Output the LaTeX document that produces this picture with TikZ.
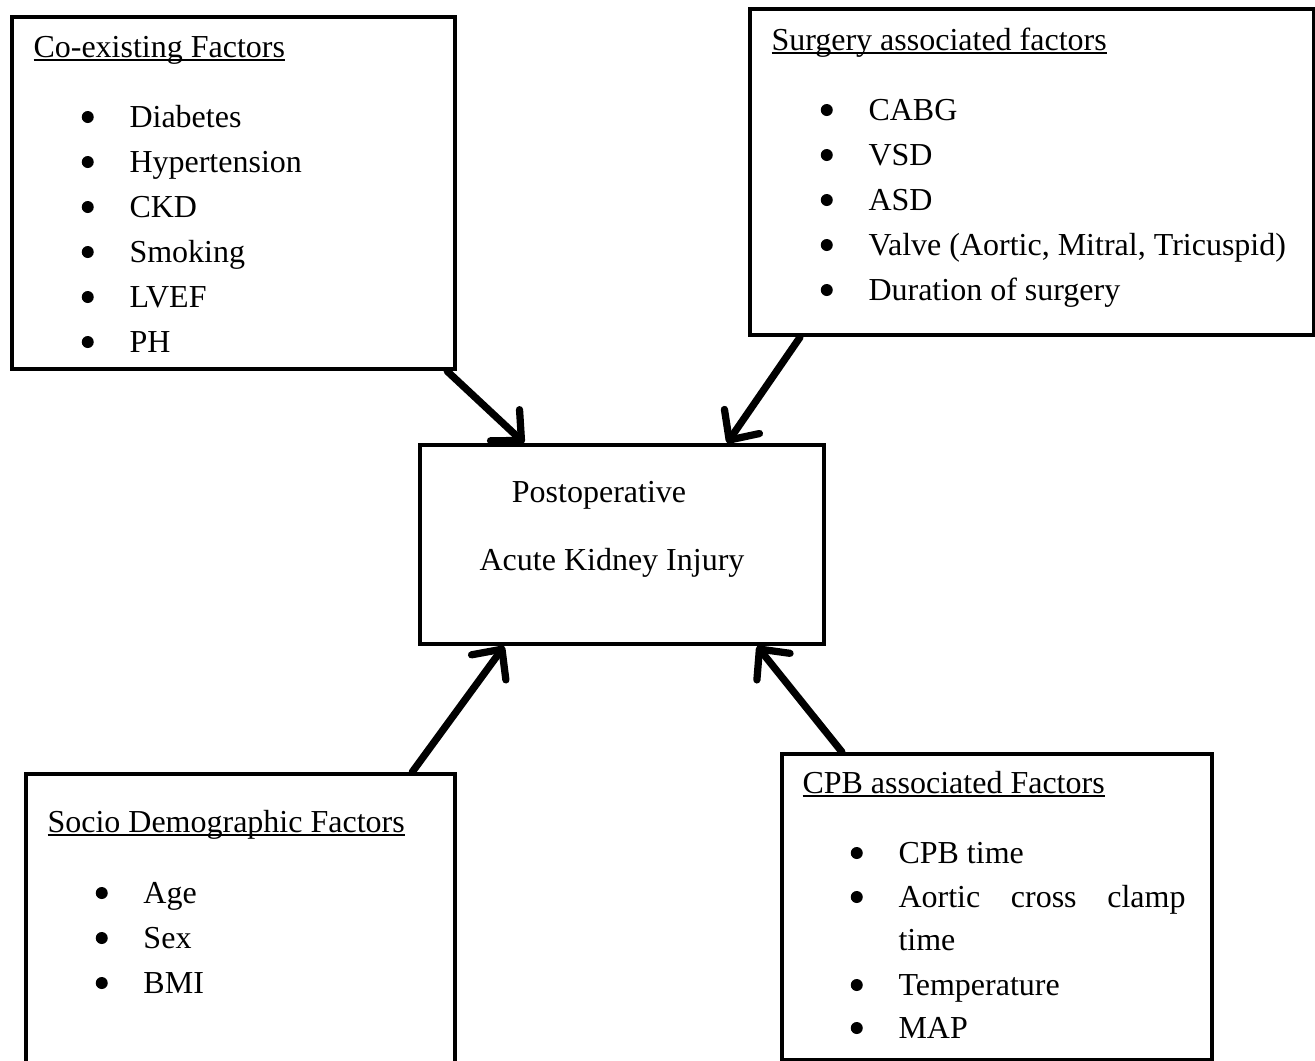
\documentclass[tikz,border=0pt]{standalone}
\usepackage{fontspec}
\setmainfont{Liberation Serif}
\usetikzlibrary{arrows.meta}
\newcommand{\myuline}[1]{\setbox0\hbox{#1}\rlap{\rule[-1.4pt]{\wd0}{0.5pt}}\box0}
\newcommand{\mytext}{\fontsize{12.8}{15}\selectfont}
\newcommand{\mydot}[1]{\fill ([xshift=-16.5pt, yshift=4pt]#1.base west) circle (2.4pt);}
\tikzset{
  factorbox/.style={draw, line width=1.7pt, anchor=north west, inner sep=0pt},
  factortitle/.style={anchor=base west, inner sep=0pt, font=\mytext},
  factoritem/.style={anchor=base west, inner sep=0pt, font=\mytext},
  arr/.style={line width=2.9pt, line cap=round, -{Straight Barb[length=9pt,width=17pt,round]}}
}

\begin{document}
\begin{tikzpicture}[x=0.4pt, y=-0.4pt]
 \useasboundingbox (0,0) rectangle (1315,1061);

 \node[factorbox, minimum width=177.2pt, minimum height=140.8pt] (coex) at (10,15) {};
 \node[factorbox, minimum width=225.6pt, minimum height=130.4pt] (surg) at (748,7) {};
 \node[factorbox, minimum width=161.6pt, minimum height=79.6pt] (aki) at (418,443) {};
 \node[factorbox, minimum width=171.6pt, minimum height=120pt] (socio) at (24,772) {};
 \node[factorbox, minimum width=172pt, minimum height=122.4pt] (cpb) at (780,752) {};

 \node[factortitle] (coexT) at (33,57) {\myuline{Co-existing Factors}};
 \foreach \t [count=\i] in {Diabetes,Hypertension,CKD,Smoking,LVEF,PH}
 { \node[factoritem] (coex\i) at (129,{127+45*(\i-1)}) {\t};
   \mydot{coex\i} }

 \node[factortitle] (surgT) at (771,50) {\myuline{Surgery associated factors}};
 \foreach \t [count=\i] in {CABG,VSD,ASD,{Valve (Aortic, Mitral, Tricuspid)},Duration of surgery}
 { \node[factoritem] (surg\i) at (868,{120+45*(\i-1)}) {\t};
   \mydot{surg\i} }

 \node[factoritem, anchor=base] (akiA) at (599,502) {Postoperative};
 \node[factoritem, anchor=base] (akiB) at (612,570) {Acute Kidney Injury};

 \node[factortitle] (socioT) at (47,832) {\myuline{Socio Demographic Factors}};
 \foreach \t [count=\i] in {Age,Sex,BMI}
 { \node[factoritem] (socio\i) at (143,{903+45*(\i-1)}) {\t};
   \mydot{socio\i} }

 \node[factortitle] (cpbT) at (802,793) {\myuline{CPB associated Factors}};
 \node[factoritem] (cpb1) at (898,863) {CPB time};
 \node[factoritem] (cpb2) at (898,907) {\makebox[114.8pt][s]{Aortic\hfill cross\hfill clamp}};
 \node[factoritem] (cpb2b) at (898,950) {time};
 \node[factoritem] (cpb3) at (898,995) {Temperature};
 \node[factoritem] (cpb4) at (898,1038) {MAP};
 \mydot{cpb1} \mydot{cpb2} \mydot{cpb3} \mydot{cpb4}

 \draw[arr] ([xshift=-4pt]coex.south east) -- ([xshift=-39.2pt]aki.north);
 \draw[arr] ([xshift=20.8pt]surg.south west) -- ([xshift=42pt]aki.north);
 \draw[arr] ([xshift=-18pt]socio.north east) -- ([xshift=-47.2pt]aki.south);
 \draw[arr] ([xshift=24.8pt]cpb.north west) -- ([xshift=54pt]aki.south);

\end{tikzpicture}
\end{document}
